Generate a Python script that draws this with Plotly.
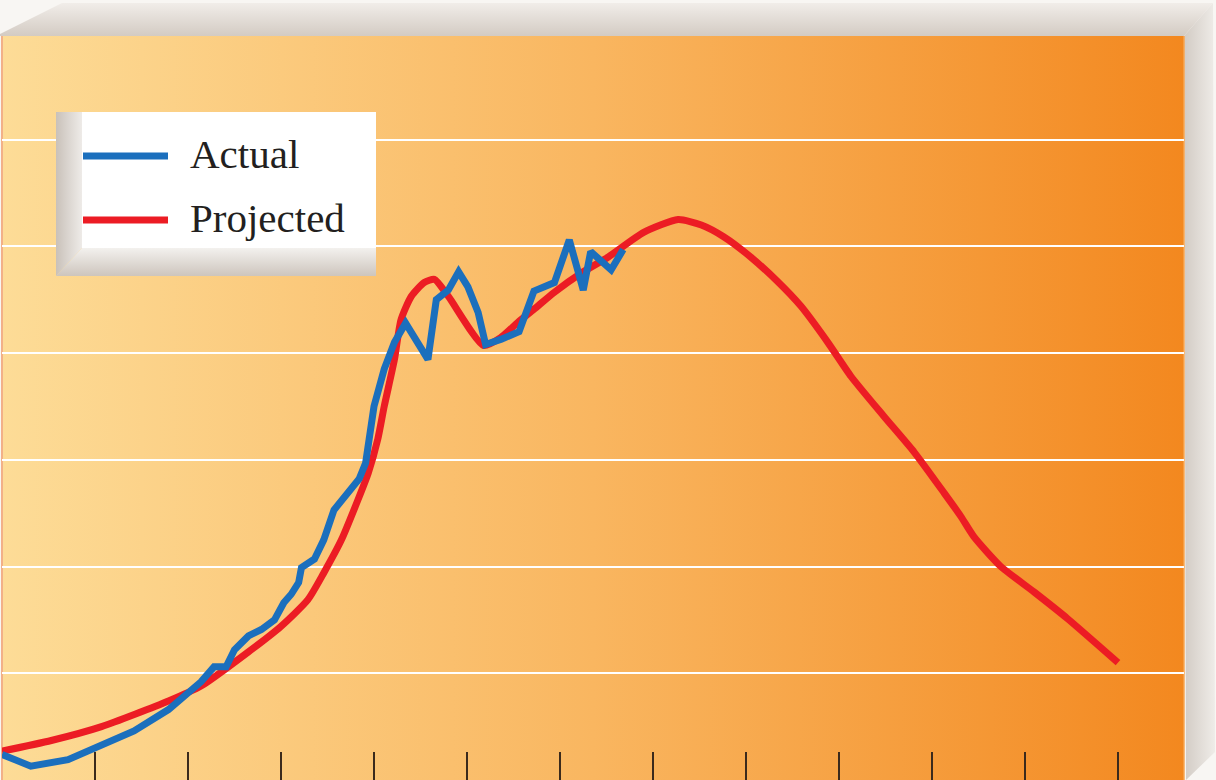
import base64
import plotly.graph_objects as go

# ---------------- data ----------------
projected_x = [0.0, 0.53, 1.07, 1.79, 2.14, 2.65, 3.00, 3.29, 3.46, 3.65, 3.83, 3.94,
               4.04, 4.11, 4.22, 4.29, 4.40, 4.54, 4.65, 4.80, 5.18, 5.37, 5.55,
               5.72, 5.94, 6.23, 6.52, 6.90, 7.27, 7.52, 7.76, 8.05, 8.34, 8.59, 8.88,
               9.13, 9.48, 9.81, 10.13, 10.31, 10.45, 10.74, 11.10, 11.46, 12.0]
projected_y = [0.27, 0.37, 0.50, 0.74, 0.88, 1.20, 1.44, 1.69, 1.94, 2.25, 2.63, 2.88,
               3.19, 3.50, 3.94, 4.31, 4.53, 4.66, 4.69, 4.53, 4.07, 4.15, 4.29,
               4.41, 4.57, 4.75, 4.90, 5.13, 5.25, 5.20, 5.09, 4.90, 4.67, 4.44, 4.10,
               3.78, 3.41, 3.07, 2.69, 2.47, 2.28, 2.00, 1.76, 1.51, 1.10]

actual_x = [0.0, 0.31, 0.71, 1.07, 1.42, 1.79, 2.14, 2.28, 2.41, 2.50, 2.65, 2.79,
            2.93, 3.03, 3.11, 3.19, 3.22, 3.36, 3.46, 3.57, 3.72, 3.84, 3.91, 3.95,
            4.00, 4.11, 4.22, 4.34, 4.58, 4.67, 4.80, 4.91, 5.01, 5.12, 5.20, 5.37,
            5.56, 5.72, 5.94, 6.10, 6.25, 6.33, 6.55, 6.68]
actual_y = [0.24, 0.13, 0.19, 0.32, 0.46, 0.66, 0.92, 1.06, 1.06, 1.22, 1.35, 1.41,
            1.50, 1.66, 1.74, 1.85, 1.99, 2.07, 2.25, 2.53, 2.69, 2.82, 2.97, 3.19,
            3.50, 3.85, 4.10, 4.28, 3.94, 4.50, 4.59, 4.76, 4.62, 4.38, 4.08, 4.13,
            4.20, 4.58, 4.66, 5.06, 4.59, 4.95, 4.78, 4.97]

tick_positions = [1, 2, 3, 4, 5, 6, 7, 8, 9, 10, 11, 12]
grid_levels = [1, 2, 3, 4, 5, 6]
series_names = ["Actual", "Projected"]

# ---------------- styling ----------------
W, H = 1216, 780
L, R, T, B = 2, 32, 36, 0
PW, PH = W - L - R, H - T - B
BLUE = "#1b6fbd"
RED = "#ec1c24"


def px(x):
    return (x - L) / PW


def py(y):
    return (H - B - y) / PH


frame_svg = """<svg xmlns="http://www.w3.org/2000/svg" width="1216" height="780" viewBox="0 0 1216 780" preserveAspectRatio="none">
<defs>
<linearGradient id="bg" x1="0" y1="0" x2="1" y2="0">
<stop offset="0" stop-color="#fddc97"/>
<stop offset="0.5" stop-color="#f9b660"/>
<stop offset="1" stop-color="#f3881f"/>
</linearGradient>
<linearGradient id="top" x1="0" y1="0" x2="0" y2="1">
<stop offset="0" stop-color="#f1ede9"/>
<stop offset="1" stop-color="#d3cbc3"/>
</linearGradient>
<linearGradient id="side" x1="0" y1="0" x2="1" y2="0">
<stop offset="0" stop-color="#d2cbc4"/>
<stop offset="1" stop-color="#efece8"/>
</linearGradient>
</defs>
<rect width="1216" height="780" fill="#f8f6f3"/>
<polygon points="0,34 62,3 1213,3 1184,36 0,36" fill="url(#top)"/>
<polygon points="1184,36 1213,3 1215,752 1186,780" fill="url(#side)"/>
<rect x="2" y="36" width="1182" height="744" fill="url(#bg)"/>
<line x1="2" y1="36" x2="2" y2="780" stroke="#f2b088" stroke-width="2"/>
<line x1="1184" y1="36" x2="1184" y2="780" stroke="#f7a652" stroke-width="1.5"/>
</svg>"""

legend_svg = """<svg xmlns="http://www.w3.org/2000/svg" width="320" height="164" viewBox="0 0 320 164" preserveAspectRatio="none">
<defs>
<linearGradient id="lg" x1="0" y1="0" x2="1" y2="0">
<stop offset="0" stop-color="#c9c1b9"/>
<stop offset="0.35" stop-color="#d6d0ca"/>
<stop offset="1" stop-color="#eeebe8"/>
</linearGradient>
<linearGradient id="bg2" x1="0" y1="0" x2="0" y2="1">
<stop offset="0" stop-color="#f3f1ee"/>
<stop offset="1" stop-color="#cdc5bd"/>
</linearGradient>
</defs>
<polygon points="0,0 26,0 26,136 0,164" fill="url(#lg)"/>
<polygon points="0,164 26,136 320,136 320,164" fill="url(#bg2)"/>
<rect x="26" y="0" width="294" height="136" fill="#ffffff"/>
</svg>"""


def data_uri(svg):
    return "data:image/svg+xml;base64," + base64.b64encode(svg.encode()).decode()


fig = go.Figure()
fig.add_trace(go.Scatter(
    x=projected_x, y=projected_y, name=series_names[1], mode="lines",
    line=dict(color=RED, width=7, shape="spline", smoothing=0.6),
    hoverinfo="skip"))
fig.add_trace(go.Scatter(
    x=actual_x, y=actual_y, name=series_names[0], mode="lines",
    line=dict(color=BLUE, width=7, shape="linear"),
    hoverinfo="skip"))

fig.update_layout(
    width=W, height=H,
    margin=dict(l=L, r=R, t=T, b=B, pad=0),
    paper_bgcolor="#ffffff",
    plot_bgcolor="rgba(0,0,0,0)",
    showlegend=False,
    xaxis=dict(range=[0, 12.71], tickvals=tick_positions, ticks="inside", ticklen=28,
               tickwidth=1.6, tickcolor="#3b2a1c", showticklabels=False,
               showgrid=False, zeroline=False, showline=False, fixedrange=True),
    yaxis=dict(range=[0, 6.97], tickvals=grid_levels, showticklabels=False,
               ticks="", showgrid=True, gridcolor="#ffffff", gridwidth=2,
               zeroline=False, showline=False, fixedrange=True),
    images=[
        dict(source=data_uri(frame_svg), xref="paper", yref="paper",
             x=-L / PW, y=1 + T / PH, sizex=W / PW, sizey=H / PH,
             xanchor="left", yanchor="top", sizing="stretch", layer="below"),
        dict(source=data_uri(legend_svg), xref="paper", yref="paper",
             x=px(56), y=py(112), sizex=320 / PW, sizey=164 / PH,
             xanchor="left", yanchor="top", sizing="stretch", layer="above"),
    ],
    shapes=[
        dict(type="line", xref="paper", yref="paper", x0=px(83), x1=px(168),
             y0=py(156), y1=py(156), line=dict(color=BLUE, width=7), layer="above"),
        dict(type="line", xref="paper", yref="paper", x0=px(83), x1=px(168),
             y0=py(220), y1=py(220), line=dict(color=RED, width=7), layer="above"),
    ],
    annotations=[
        dict(text=series_names[0], xref="paper", yref="paper", x=px(188), y=py(154),
             xanchor="left", yanchor="middle", showarrow=False,
             font=dict(family="Liberation Serif", size=41, color="#231f20")),
        dict(text=series_names[1], xref="paper", yref="paper", x=px(188), y=py(218),
             xanchor="left", yanchor="middle", showarrow=False,
             font=dict(family="Liberation Serif", size=41, color="#231f20")),
    ],
)

fig.write_html("out.html", config={"displayModeBar": False},
               post_script="document.body.style.margin='0';document.body.style.overflow='hidden';")
